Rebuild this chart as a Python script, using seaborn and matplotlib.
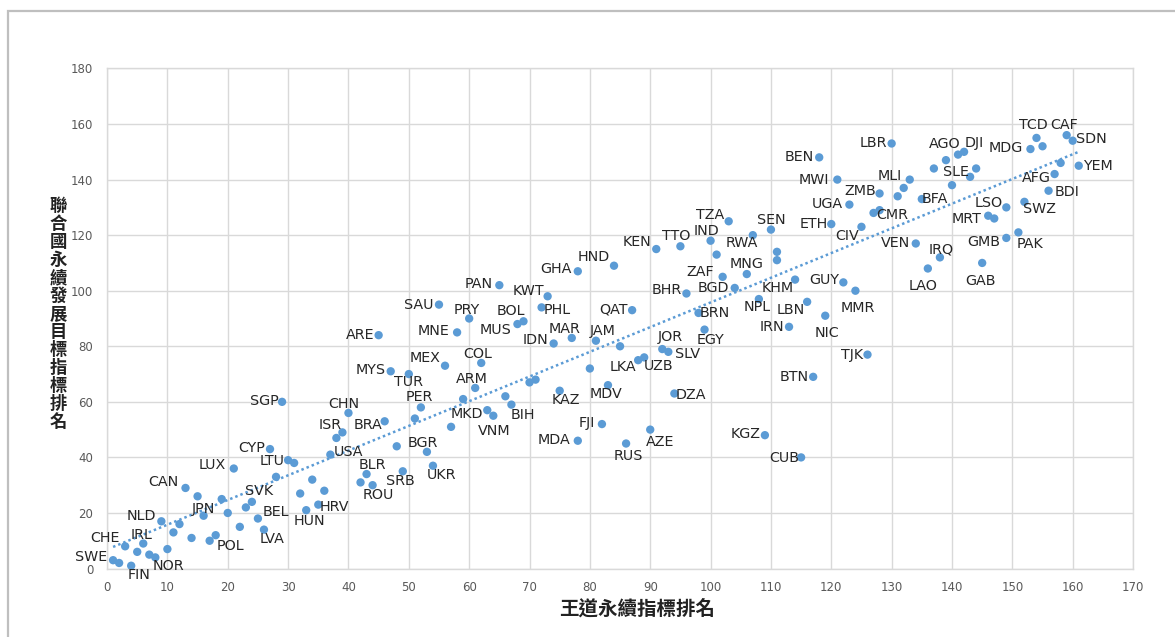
import numpy as np
import pandas as pd
import matplotlib
matplotlib.use("Agg")
import matplotlib.pyplot as plt
from matplotlib.patches import Rectangle
import seaborn as sns

# rank data (x: 王道永續指標, y: 聯合國永續發展目標指標)
wangdao_rank = [1, 2, 3, 4, 5, 6, 7, 8, 9, 10, 11, 12, 13, 14, 15, 16, 17, 18, 19, 20,
                21, 22, 23, 24, 25, 26, 27, 28, 29, 30, 31, 32, 33, 34, 35, 36, 37, 38, 39, 40,
                42, 43, 44, 45, 46, 47, 48, 49, 50, 51, 52, 53, 54, 55, 56, 57, 58, 59, 60,
                61, 62, 63, 64, 65, 66, 67, 68, 69, 70, 71, 72, 73, 74, 75, 77, 78, 78, 80,
                81, 82, 83, 84, 85, 86, 87, 88, 89, 90, 91, 92, 93, 94, 95, 96, 98, 99, 100,
                101, 102, 103, 104, 106, 107, 108, 109, 110, 111, 111, 113, 114, 115, 116, 117,
                118, 119, 120, 121, 122, 123, 124, 125, 126, 127, 128, 128, 130, 131, 132, 133,
                134, 135, 136, 137, 138, 139, 140, 141, 142, 143, 144, 145, 146, 147, 149, 149,
                151, 152, 153, 154, 155, 156, 157, 158, 159, 160, 161]
sdg_rank = [3, 2, 8, 1, 6, 9, 5, 4, 17, 7, 13, 16, 29, 11, 26, 19, 10, 12, 25, 20,
            36, 15, 22, 24, 18, 14, 43, 33, 60, 39, 38, 27, 21, 32, 23, 28, 41, 47, 49, 56,
            31, 34, 30, 84, 53, 71, 44, 35, 70, 54, 58, 42, 37, 95, 73, 51, 85, 61, 90,
            65, 74, 57, 55, 102, 62, 59, 88, 89, 67, 68, 94, 98, 81, 64, 83, 107, 46, 72,
            82, 52, 66, 109, 80, 45, 93, 75, 76, 50, 115, 79, 78, 63, 116, 99, 92, 86, 118,
            113, 105, 125, 101, 106, 120, 97, 48, 122, 114, 111, 87, 104, 40, 96, 69,
            148, 91, 124, 140, 103, 131, 100, 123, 77, 128, 129, 135, 153, 134, 137, 140,
            117, 133, 108, 144, 112, 147, 138, 149, 150, 141, 144, 110, 127, 126, 130, 119,
            121, 132, 151, 155, 152, 136, 142, 146, 156, 154, 145]
iso_code = ["SWE", "", "CHE", "FIN", "", "IRL", "", "NOR", "NLD", "", "", "", "CAN", "", "", "JPN", "", "POL", "", "",
            "LUX", "", "", "SVK", "BEL", "LVA", "CYP", "", "SGP", "LTU", "", "", "HUN", "", "HRV", "", "USA", "ISR", "", "CHN",
            "", "BLR", "ROU", "ARE", "BRA", "MYS", "", "SRB", "TUR", "", "PER", "BGR", "UKR", "SAU", "MEX", "", "MNE", "", "PRY",
            "ARM", "COL", "MKD", "VNM", "PAN", "", "BIH", "MUS", "BOL", "", "", "PHL", "KWT", "IDN", "KAZ", "MAR", "GHA", "MDA", "",
            "JAM", "FJI", "MDV", "HND", "", "RUS", "QAT", "LKA", "UZB", "AZE", "KEN", "JOR", "SLV", "DZA", "TTO", "BHR", "BRN", "EGY", "IND",
            "", "ZAF", "TZA", "BGD", "MNG", "RWA", "NPL", "KGZ", "SEN", "", "", "IRN", "KHM", "CUB", "LBN", "BTN",
            "BEN", "NIC", "ETH", "MWI", "GUY", "UGA", "MMR", "CIV", "TJK", "", "CMR", "ZMB", "LBR", "", "", "MLI",
            "VEN", "BFA", "LAO", "", "IRQ", "AGO", "", "", "DJI", "SLE", "", "GAB", "MRT", "", "LSO", "GMB",
            "PAK", "SWZ", "MDG", "TCD", "", "BDI", "AFG", "", "CAF", "SDN", "YEM"]

x_ticks = list(range(0, 171, 10))
y_ticks = list(range(0, 181, 20))
x_title = "王道永續指標排名"
y_title = "聯合國永續發展目標指標排名"

# label placement (pixel offset of label centre from its point)
label_offset = {
    "SWE": (-22, 3), "CHE": (-20, 8), "FIN": (8, -9), "NOR": (13, -9), "IRL": (-2, 9),
    "NLD": (-20, 5), "CAN": (-22, 6), "JPN": (0, 7), "POL": (15, -11), "LUX": (-22, 4),
    "SVK": (7, 11), "BEL": (18, 7), "LVA": (8, -9), "CYP": (-18, 1), "LTU": (-16, -1),
    "HUN": (3, -11), "HRV": (16, -2), "USA": (18, 3), "ISR": (-6, 13), "SGP": (-18, 1),
    "CHN": (-5, 9), "BRA": (-17, -4), "BGR": (-4, 9), "BLR": (6, 9), "ROU": (6, -10),
    "SRB": (-2, -10), "UKR": (9, -9), "ARE": (-18, 0), "SAU": (-20, 0), "MNE": (-24, 1),
    "PRY": (-2, 8), "MYS": (-20, 1), "TUR": (0, -8), "MEX": (-20, 8), "PER": (-2, 10),
    "COL": (-4, 9), "ARM": (-3, 9), "MKD": (-20, -4), "VNM": (1, -15), "BIH": (11, -10),
    "PAN": (-21, 1), "MUS": (-22, -6), "BOL": (-13, 10), "KWT": (-19, 5), "PHL": (16, -3),
    "GHA": (-22, 2), "HND": (-20, 9), "IDN": (-18, 4), "MAR": (-7, 9), "JAM": (7, 10),
    "QAT": (-19, 1), "LKA": (-15, -7), "UZB": (14, -9), "KAZ": (6, -9), "MDV": (-2, -9),
    "FJI": (-15, 1), "MDA": (-24, 1), "RUS": (2, -12), "AZE": (10, -12), "DZA": (17, -1),
    "TZA": (-19, 6), "IND": (-4, 10), "TTO": (-4, 10), "KEN": (-19, 7), "SEN": (0, 10),
    "RWA": (-11, -8), "ZAF": (-22, 5), "MNG": (0, 10), "BGD": (-21, 0), "BHR": (-20, 3),
    "KHM": (-17, -8), "NPL": (-2, -8), "LBN": (-16, -8), "IRN": (-17, 0), "BRN": (16, 0),
    "EGY": (6, -10), "JOR": (8, 12), "SLV": (19, -2), "BTN": (-19, 0), "KGZ": (-19, 1),
    "CUB": (-17, -1), "LBR": (-18, 0), "BEN": (-20, 0), "MWI": (-23, 0), "ZMB": (-19, 2),
    "UGA": (-22, 1), "ETH": (-18, 0), "CIV": (-14, -9), "CMR": (13, -5), "MLI": (-20, 4),
    "BFA": (13, 0), "AGO": (-1, 16), "DJI": (10, 9), "SLE": (-14, 5), "VEN": (-20, 0),
    "IRQ": (1, 8), "LAO": (-5, -18), "GUY": (-19, 2), "MMR": (2, -17), "NIC": (2, -17),
    "TJK": (-15, 0), "TCD": (-3, 13), "CAF": (-3, 10), "SDN": (19, 2), "MDG": (-25, 1),
    "YEM": (19, 0), "AFG": (-18, -4), "BDI": (19, -1), "SWZ": (15, -7), "LSO": (-18, 4),
    "MRT": (-22, -3), "GMB": (-23, -4), "PAK": (12, -12), "GAB": (-2, -18),
}

df = pd.DataFrame({"wangdao": wangdao_rank, "sdg": sdg_rank, "code": iso_code})

sns.set_theme(style="whitegrid")
plt.rcParams["font.family"] = ["DejaVu Sans", "Noto Sans CJK TC"]

blue = "#5b9bd5"
fig = plt.figure(figsize=(11.75, 6.37), dpi=100)
ax = fig.add_axes([0.0911, 0.1075, 0.8732, 0.785])

sns.regplot(data=df, x="wangdao", y="sdg", ax=ax, scatter=False, ci=None, truncate=True,
            line_kws={"color": blue, "lw": 1.8, "ls": (0, (1, 1.2))})
sns.scatterplot(data=df, x="wangdao", y="sdg", ax=ax, color=blue, s=36,
                edgecolor="none", zorder=3)

for _, row in df.iterrows():
    if row["code"]:
        dx, dy = label_offset[row["code"]]
        ax.annotate(row["code"], (row["wangdao"], row["sdg"]), xytext=(dx, dy),
                    textcoords="offset pixels", ha="center", va="center",
                    fontsize=10.3, color="#262626", zorder=4)

ax.set_xlim(0, 170)
ax.set_ylim(0, 180)
ax.set_xticks(x_ticks)
ax.set_yticks(y_ticks)
ax.set_xlabel("")
ax.set_ylabel("")
ax.grid(True, color="#d9d9d9", lw=1)
for sp in ax.spines.values():
    sp.set_color("#d9d9d9")
    sp.set_linewidth(1)
ax.tick_params(axis="both", labelsize=8.5, labelcolor="#595959", length=0)
ax.tick_params(axis="x", pad=9)
ax.tick_params(axis="y", pad=10)

fig.text(0.542, 0.044, x_title, ha="center", va="center", fontsize=14,
         fontweight="bold", family="Noto Sans CJK TC", color="#222222")
fig.text(0.0494, 0.507, "\n".join(y_title), ha="center", va="center", fontsize=12.5,
         fontweight="bold", family="Noto Sans CJK TC", color="#222222", linespacing=1.0)

fig.patches.append(Rectangle((8 / 1175, -0.1), 1.2, 0.1 + 1 - 11 / 637, fill=False,
                             edgecolor="#bfbfbf", lw=1.6, transform=fig.transFigure))

fig.savefig("out.png", dpi=100)
